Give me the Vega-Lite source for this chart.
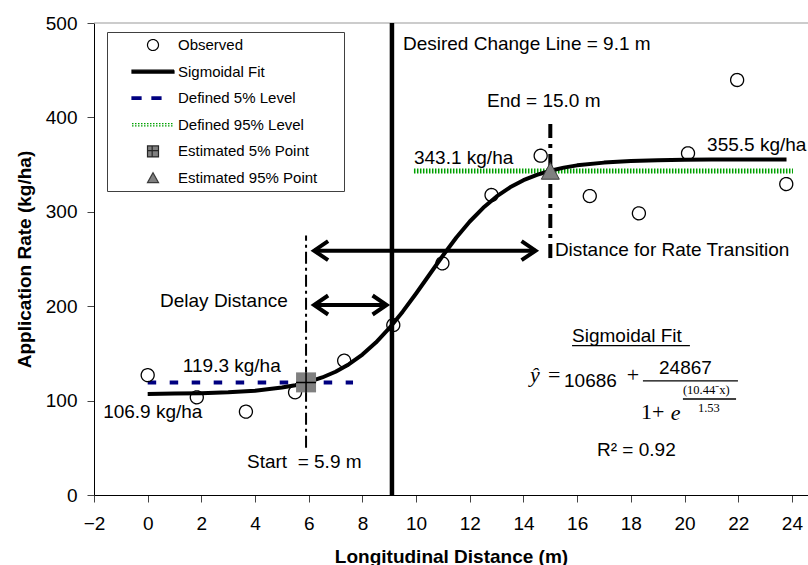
{
  "$schema": "https://vega.github.io/schema/vega-lite/v6.json",
  "width": 714,
  "height": 472,
  "autosize": {"type": "none"},
  "padding": {"left": 94, "top": 23, "right": 0, "bottom": 70},
  "background": "white",
  "config": {
    "view": {"stroke": null},
    "font": "Liberation Sans",
    "axis": {
      "grid": false,
      "labelFont": "Liberation Sans",
      "labelFontSize": 19,
      "labelColor": "black",
      "titleFont": "Liberation Sans",
      "titleFontSize": 19,
      "titleFontWeight": "bold",
      "titleColor": "black",
      "domainColor": "black",
      "domainWidth": 1,
      "tickColor": "#444444",
      "tickSize": 7,
      "tickWidth": 1
    },
    "legend": {
      "orient": "none",
      "legendX": 13,
      "legendY": 9,
      "padding": 5,
      "strokeColor": "#404040",
      "fillColor": "white",
      "labelFont": "Liberation Sans",
      "labelFontSize": 15,
      "labelColor": "black",
      "labelLimit": 300,
      "symbolSize": 1764,
      "symbolStrokeWidth": 1.2,
      "symbolOffset": 19,
      "labelOffset": 3,
      "clipHeight": 16,
      "rowPadding": 10.6
    }
  },
  "datasets": {
    "frame": [{"rate": 500}],
    "observed": [
      {"d": 0, "rate": 127, "series": "Observed"},
      {"d": 1.83, "rate": 103.5, "series": "Observed"},
      {"d": 3.66, "rate": 88.3, "series": "Observed"},
      {"d": 5.49, "rate": 108.8, "series": "Observed"},
      {"d": 7.32, "rate": 142.3, "series": "Observed"},
      {"d": 9.15, "rate": 180, "series": "Observed"},
      {"d": 10.98, "rate": 245.4, "series": "Observed"},
      {"d": 12.81, "rate": 317.8, "series": "Observed"},
      {"d": 14.64, "rate": 359.4, "series": "Observed"},
      {"d": 16.47, "rate": 316.7, "series": "Observed"},
      {"d": 18.3, "rate": 298.4, "series": "Observed"},
      {"d": 20.13, "rate": 362, "series": "Observed"},
      {"d": 21.96, "rate": 439.6, "series": "Observed"},
      {"d": 23.79, "rate": 329.4, "series": "Observed"}
    ],
    "fit": [
      {"d": 0, "rate": 106.9}, {"d": 1, "rate": 107.4}, {"d": 2, "rate": 107.9},
      {"d": 3, "rate": 108.8}, {"d": 4, "rate": 110.5}, {"d": 5, "rate": 113.8},
      {"d": 5.5, "rate": 116.3}, {"d": 6, "rate": 119.8}, {"d": 6.5, "rate": 124.5},
      {"d": 7, "rate": 130.6}, {"d": 7.5, "rate": 138.6}, {"d": 8, "rate": 148.8},
      {"d": 8.5, "rate": 161.5}, {"d": 9, "rate": 176.7}, {"d": 9.5, "rate": 194.2},
      {"d": 10, "rate": 213.5}, {"d": 10.5, "rate": 233.6}, {"d": 11, "rate": 253.7},
      {"d": 11.5, "rate": 272.7}, {"d": 12, "rate": 289.7}, {"d": 12.5, "rate": 304.2},
      {"d": 13, "rate": 316.3}, {"d": 13.5, "rate": 325.9}, {"d": 14, "rate": 333.5},
      {"d": 14.5, "rate": 339.2}, {"d": 15, "rate": 343.5}, {"d": 15.5, "rate": 346.8},
      {"d": 16, "rate": 349.2}, {"d": 17, "rate": 352.1}, {"d": 18, "rate": 353.8},
      {"d": 19, "rate": 354.6}, {"d": 20, "rate": 355.1}, {"d": 21, "rate": 355.3},
      {"d": 22, "rate": 355.4}, {"d": 23.8, "rate": 355.5}
    ],
    "level5": [{"d": 0, "d2": 7.65, "rate": 119.3}],
    "level95": [{"d": 9.92, "d2": 24.04, "rate": 343.1}],
    "changeLine": [{"d": 9.1, "rate": 0, "rate2": 500}],
    "startLine": [{"d": 5.9, "rate": 50, "rate2": 275}],
    "endLine": [{"d": 15.0, "rate": 251, "rate2": 397}],
    "arrows": [
      {"d": 6.2, "d2": 14.45, "rate": 258.8},
      {"d": 6.2, "d2": 8.9, "rate": 201.3}
    ],
    "est5": [{"d": 5.9, "rate": 119.3}],
    "est95": [{"d": 15.0, "rate": 343.1}],
    "notes": [
      {"d": 9.51, "rate": 471.6, "label": "Desired Change Line = 9.1 m"},
      {"d": 12.64, "rate": 410.5, "label": "End = 15.0 m"},
      {"d": 9.92, "rate": 350.3, "label": "343.1 kg/ha"},
      {"d": 20.84, "rate": 364.6, "label": "355.5 kg/ha"},
      {"d": 15.17, "rate": 253.4, "label": "Distance for Rate Transition"},
      {"d": 0.46, "rate": 199.4, "label": "Delay Distance"},
      {"d": 1.31, "rate": 130.2, "label": "119.3 kg/ha"},
      {"d": -1.66, "rate": 81.5, "label": "106.9 kg/ha"},
      {"d": 3.7, "rate": 28.8, "label": "Start\u00a0 = 5.9 m"},
      {"d": 15.81, "rate": 162.3, "label": "Sigmoidal Fit"},
      {"d": 15.51, "rate": 114.4, "label": "10686"},
      {"d": 19.05, "rate": 128.2, "label": "24867"},
      {"d": 16.74, "rate": 41.6, "label": "R² = 0.92"}
    ],
    "mathUpright": [
      {"d": 14.91, "rate": 120.2, "label": "="},
      {"d": 17.85, "rate": 119.7, "label": "+"},
      {"d": 18.38, "rate": 80.2, "label": "1+"}
    ],
    "mathItalic": [
      {"d": 14.24, "rate": 120.0, "label": "ŷ"},
      {"d": 19.49, "rate": 79.4, "label": "e"}
    ],
    "mathSmall": [
      {"d": 19.94, "rate": 107.0, "label": "(10.44⁻x)"},
      {"d": 20.5, "rate": 88.2, "label": "1.53"}
    ],
    "mathRules": [
      {"d": 18.45, "d2": 21.99, "rate": 120.8},
      {"d": 19.94, "d2": 21.92, "rate": 101.7},
      {"d": 15.81, "d2": 20.2, "rate": 158.2}
    ]
  },
  "layer": [
    {
      "data": {"name": "frame"},
      "mark": {"type": "rule", "color": "#999999", "strokeWidth": 1},
      "encoding": {"y": {"field": "rate", "type": "quantitative"}}
    },
    {
      "data": {"name": "level5"},
      "mark": {"type": "rule", "color": "#000080", "strokeWidth": 4, "strokeDash": [8.5, 13.5]},
      "encoding": {
        "x": {"field": "d", "type": "quantitative"},
        "x2": {"field": "d2"},
        "y": {"field": "rate", "type": "quantitative"}
      }
    },
    {
      "data": {"name": "level95"},
      "mark": {"type": "rule", "color": "#00a000", "strokeWidth": 5, "strokeDash": [1.5, 1.5]},
      "encoding": {
        "x": {"field": "d", "type": "quantitative"},
        "x2": {"field": "d2"},
        "y": {"field": "rate", "type": "quantitative"}
      }
    },
    {
      "data": {"name": "observed"},
      "mark": {"type": "point", "filled": true, "strokeWidth": 1.3, "size": 2460, "opacity": 1},
      "encoding": {
        "x": {
          "field": "d",
          "type": "quantitative",
          "scale": {"domain": [-2, 24.6], "nice": false, "zero": false},
          "axis": {
            "title": "Longitudinal Distance (m)",
            "values": [-2, 0, 2, 4, 6, 8, 10, 12, 14, 16, 18, 20, 22, 24],
            "labelPadding": 12,
            "titlePadding": 14,
            "labelFlush": false,
            "labelOverlap": false
          }
        },
        "y": {
          "field": "rate",
          "type": "quantitative",
          "scale": {"domain": [0, 500], "nice": false},
          "axis": {
            "title": "Application Rate (kg/ha)",
            "values": [0, 100, 200, 300, 400, 500],
            "labelPadding": 10,
            "titlePadding": 11,
            "labelFlush": false
          }
        },
        "shape": {
          "field": "series",
          "type": "nominal",
          "title": null,
          "scale": {
            "domain": ["Observed", "Sigmoidal Fit", "Defined 5% Level", "Defined 95% Level", "Estimated 5% Point", "Estimated 95% Point"],
            "range": [
              "M0.262,0A0.262,0.262,0,1,1,-0.262,0A0.262,0.262,0,1,1,0.262,0Z",
              "M-1,-0.07H1V0.07H-1Z",
              "M-1,-0.06H-0.57V0.06H-1Z M-0.05,-0.06H0.38V0.06H-0.05Z",
              "M-1,-0.055H1 M-1,0.055H1",
              "M-0.262,-0.262H0.262V0.262H-0.262Z M-0.262,-0.04H0.262 M-0.04,-0.262V0.262",
              "M0,-0.25L0.262,0.22L-0.262,0.22Z"
            ]
          },
          "legend": {"labelExpr": "datum.label + '\u00a0\u00a0\u00a0\u00a0\u00a0\u200b'"}
        },
        "fill": {
          "field": "series",
          "type": "nominal",
          "title": null,
          "scale": {
            "domain": ["Observed", "Sigmoidal Fit", "Defined 5% Level", "Defined 95% Level", "Estimated 5% Point", "Estimated 95% Point"],
            "range": ["white", "black", "#000080", "transparent", "#808080", "#808080"]
          },
          "legend": {"labelExpr": "datum.label + '\u00a0\u00a0\u00a0\u00a0\u00a0\u200b'"}
        },
        "stroke": {
          "field": "series",
          "type": "nominal",
          "title": null,
          "scale": {
            "domain": ["Observed", "Sigmoidal Fit", "Defined 5% Level", "Defined 95% Level", "Estimated 5% Point", "Estimated 95% Point"],
            "range": ["black", "black", "#000080", "#00a000", "#262626", "#3a3a3a"]
          },
          "legend": {"labelExpr": "datum.label + '\u00a0\u00a0\u00a0\u00a0\u00a0\u200b'"}
        },
        "strokeDash": {
          "field": "series",
          "type": "nominal",
          "title": null,
          "scale": {
            "domain": ["Observed", "Sigmoidal Fit", "Defined 5% Level", "Defined 95% Level", "Estimated 5% Point", "Estimated 95% Point"],
            "range": [[1, 0], [1, 0], [1, 0], [1.5, 1.5], [1, 0], [1, 0]]
          },
          "legend": {"labelExpr": "datum.label + '\u00a0\u00a0\u00a0\u00a0\u00a0\u200b'"}
        }
      }
    },
    {
      "data": {"name": "fit"},
      "mark": {"type": "line", "color": "black", "strokeWidth": 4, "strokeJoin": "round"},
      "encoding": {
        "x": {"field": "d", "type": "quantitative"},
        "y": {"field": "rate", "type": "quantitative"}
      }
    },
    {
      "data": {"name": "changeLine"},
      "mark": {"type": "rule", "color": "black", "strokeWidth": 4.5},
      "encoding": {
        "x": {"field": "d", "type": "quantitative"},
        "y": {"field": "rate", "type": "quantitative"},
        "y2": {"field": "rate2"}
      }
    },
    {
      "data": {"name": "startLine"},
      "mark": {"type": "rule", "color": "black", "strokeWidth": 2, "strokeDash": [12, 4, 3, 4]},
      "encoding": {
        "x": {"field": "d", "type": "quantitative"},
        "y": {"field": "rate", "type": "quantitative"},
        "y2": {"field": "rate2"}
      }
    },
    {
      "data": {"name": "endLine"},
      "mark": {"type": "rule", "color": "black", "strokeWidth": 4, "strokeDash": [14, 6, 4, 6]},
      "encoding": {
        "x": {"field": "d", "type": "quantitative"},
        "y": {"field": "rate", "type": "quantitative"},
        "y2": {"field": "rate2"}
      }
    },
    {
      "data": {"name": "arrows"},
      "mark": {"type": "rule", "color": "black", "strokeWidth": 4},
      "encoding": {
        "x": {"field": "d", "type": "quantitative"},
        "x2": {"field": "d2"},
        "y": {"field": "rate", "type": "quantitative"}
      }
    },
    {
      "data": {"name": "arrows"},
      "mark": {"type": "point", "shape": "M1.4,-0.95L0,0L1.4,0.95", "size": 400, "filled": false, "stroke": "black", "strokeWidth": 4, "strokeJoin": "miter", "opacity": 1},
      "encoding": {
        "x": {"field": "d", "type": "quantitative"},
        "y": {"field": "rate", "type": "quantitative"}
      }
    },
    {
      "data": {"name": "arrows"},
      "mark": {"type": "point", "shape": "M-1.4,-0.95L0,0L-1.4,0.95", "size": 400, "filled": false, "stroke": "black", "strokeWidth": 4, "strokeJoin": "miter", "opacity": 1},
      "encoding": {
        "x": {"field": "d2", "type": "quantitative"},
        "y": {"field": "rate", "type": "quantitative"}
      }
    },
    {
      "data": {"name": "est5"},
      "mark": {"type": "point", "shape": "square", "size": 400, "filled": true, "fill": "#808080", "strokeWidth": 0, "opacity": 1},
      "encoding": {
        "x": {"field": "d", "type": "quantitative"},
        "y": {"field": "rate", "type": "quantitative"}
      }
    },
    {
      "data": {"name": "est5"},
      "mark": {"type": "point", "shape": "M-1,0H1M0,-1V1", "size": 400, "filled": false, "stroke": "black", "strokeWidth": 1.5, "opacity": 1},
      "encoding": {
        "x": {"field": "d", "type": "quantitative"},
        "y": {"field": "rate", "type": "quantitative"}
      }
    },
    {
      "data": {"name": "est95"},
      "mark": {"type": "point", "shape": "M0,-0.95L1,0.9L-1,0.9Z", "size": 324, "filled": true, "fill": "#808080", "stroke": "#3a3a3a", "strokeWidth": 1, "opacity": 1},
      "encoding": {
        "x": {"field": "d", "type": "quantitative"},
        "y": {"field": "rate", "type": "quantitative"}
      }
    },
    {
      "data": {"name": "notes"},
      "mark": {"type": "text", "font": "Liberation Sans", "fontSize": 19, "align": "left", "baseline": "alphabetic", "color": "black"},
      "encoding": {
        "x": {"field": "d", "type": "quantitative"},
        "y": {"field": "rate", "type": "quantitative"},
        "text": {"field": "label"}
      }
    },
    {
      "data": {"name": "mathUpright"},
      "mark": {"type": "text", "font": "Liberation Serif", "fontSize": 22, "align": "left", "baseline": "alphabetic", "color": "black"},
      "encoding": {
        "x": {"field": "d", "type": "quantitative"},
        "y": {"field": "rate", "type": "quantitative"},
        "text": {"field": "label"}
      }
    },
    {
      "data": {"name": "mathItalic"},
      "mark": {"type": "text", "font": "Liberation Serif", "fontSize": 22, "fontStyle": "italic", "align": "left", "baseline": "alphabetic", "color": "black"},
      "encoding": {
        "x": {"field": "d", "type": "quantitative"},
        "y": {"field": "rate", "type": "quantitative"},
        "text": {"field": "label"}
      }
    },
    {
      "data": {"name": "mathSmall"},
      "mark": {"type": "text", "font": "Liberation Serif", "fontSize": 12.5, "align": "left", "baseline": "alphabetic", "color": "black"},
      "encoding": {
        "x": {"field": "d", "type": "quantitative"},
        "y": {"field": "rate", "type": "quantitative"},
        "text": {"field": "label"}
      }
    },
    {
      "data": {"name": "mathRules"},
      "mark": {"type": "rule", "color": "black", "strokeWidth": 1.3},
      "encoding": {
        "x": {"field": "d", "type": "quantitative"},
        "x2": {"field": "d2"},
        "y": {"field": "rate", "type": "quantitative"}
      }
    }
  ]
}
